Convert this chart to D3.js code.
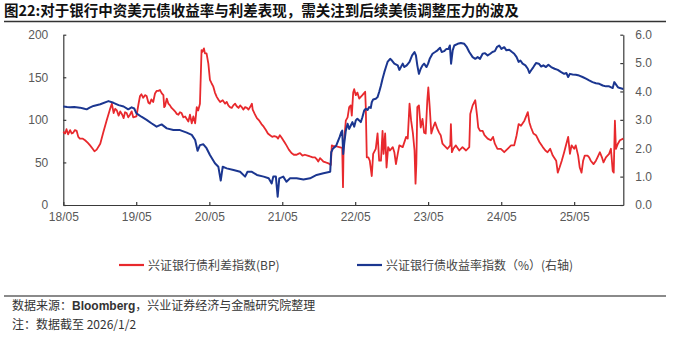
<!DOCTYPE html>
<html>
<head>
<meta charset="utf-8">
<script src="https://cdn.jsdelivr.net/npm/d3@7"></script>
<style>
  body { margin: 0; background: #fff; }
  svg { display: block; }
</style>
</head>
<body>
<svg id="chart" width="677" height="338"></svg>
<script>
// 兴证银行债利差指数 (BP), left axis
const spreadSeries = [
  ["2018-05-01",86],["2018-05-10",84],["2018-05-17",89],["2018-05-25",83],["2018-06-04",88],
  ["2018-06-12",84],["2018-06-20",85],["2018-06-28",88],["2018-07-07",87],["2018-07-15",80],
  ["2018-07-23",78],["2018-08-05",78],["2018-08-18",76],["2018-09-01",73],["2018-09-12",70],
  ["2018-09-25",66],["2018-10-04",63],["2018-10-15",65],["2018-11-02",72],["2018-11-18",86],
  ["2018-12-05",100],["2018-12-20",112],["2018-12-30",119],["2019-01-08",108],["2019-01-16",113],
  ["2019-01-24",111],["2019-02-02",105],["2019-02-10",110],["2019-02-20",106],["2019-02-27",102],
  ["2019-03-06",109],["2019-03-14",108],["2019-03-22",103],["2019-03-31",106],["2019-04-08",110],
  ["2019-04-16",103],["2019-05-02",104],["2019-05-12",118],["2019-05-20",128],["2019-05-27",130],
  ["2019-06-05",126],["2019-06-14",129],["2019-06-22",128],["2019-07-01",120],["2019-07-08",119],
  ["2019-07-16",124],["2019-07-25",121],["2019-08-03",131],["2019-08-11",134],["2019-08-20",134],
  ["2019-08-28",135],["2019-09-06",131],["2019-09-14",129],["2019-09-18",115],["2019-09-22",116],
  ["2019-10-01",125],["2019-10-09",119],["2019-10-17",117],["2019-10-25",114],["2019-11-03",112],
  ["2019-11-11",110],["2019-11-20",107],["2019-11-28",106],["2019-12-06",109],["2019-12-14",108],
  ["2019-12-23",103],["2020-01-01",104],["2020-01-09",101],["2020-01-17",98],["2020-01-25",106],
  ["2020-02-03",96],["2020-02-11",104],["2020-02-20",96],["2020-02-28",115],["2020-03-06",111],
  ["2020-03-15",119],["2020-03-23",182],["2020-03-28",180],["2020-04-04",184],["2020-04-09",178],
  ["2020-04-17",178],["2020-04-26",166],["2020-05-04",147],["2020-05-12",143],["2020-05-21",139],
  ["2020-05-29",132],["2020-06-07",127],["2020-06-15",124],["2020-06-24",121],["2020-07-07",123],
  ["2020-07-19",119],["2020-07-27",121],["2020-08-04",117],["2020-08-12",115],["2020-08-21",114],
  ["2020-08-29",117],["2020-09-07",119],["2020-09-15",116],["2020-09-24",114],["2020-10-02",117],
  ["2020-10-10",115],["2020-10-18",112],["2020-10-27",115],["2020-11-05",114],["2020-11-13",112],
  ["2020-11-21",115],["2020-11-30",119],["2020-12-04",112],["2020-12-14",107],["2020-12-25",102],
  ["2021-01-06",99],["2021-01-17",95],["2021-01-28",92],["2021-02-08",88],["2021-02-18",84],
  ["2021-03-01",82],["2021-03-12",80],["2021-03-22",81],["2021-04-03",80],["2021-04-10",78],
  ["2021-04-19",82],["2021-04-28",79],["2021-05-06",76],["2021-05-14",73],["2021-05-22",70],
  ["2021-06-03",65],["2021-06-16",61],["2021-06-28",59],["2021-07-12",59],["2021-07-20",60],
  ["2021-07-29",61],["2021-08-10",58],["2021-08-22",59],["2021-09-05",58],["2021-09-17",57],
  ["2021-09-30",56],["2021-10-12",56],["2021-10-20",54],["2021-10-28",51],["2021-11-06",55],
  ["2021-11-15",53],["2021-11-23",51],["2021-12-05",50],["2021-12-18",49],["2021-12-30",47],
  ["2022-01-04",70],["2022-01-12",69],["2022-01-26",69],["2022-02-10",68],["2022-02-25",67],
  ["2022-03-01",21],["2022-03-04",68],["2022-03-15",99],["2022-03-24",103],["2022-04-01",115],
  ["2022-04-09",117],["2022-04-14",105],["2022-04-21",132],["2022-04-26",136],["2022-05-04",129],
  ["2022-05-12",132],["2022-05-21",125],["2022-05-29",127],["2022-06-06",129],["2022-06-20",133],
  ["2022-06-23",115],["2022-06-28",56],["2022-07-06",56],["2022-07-13",52],["2022-07-23",34],
  ["2022-07-30",60],["2022-08-12",66],["2022-08-21",84],["2022-08-29",52],["2022-09-07",52],
  ["2022-09-15",87],["2022-09-20",60],["2022-09-28",84],["2022-10-05",44],["2022-10-13",68],
  ["2022-10-22",64],["2022-11-05",68],["2022-11-13",62],["2022-11-21",48],["2022-11-30",60],
  ["2022-12-08",70],["2022-12-25",68],["2023-01-11",80],["2023-01-19",78],["2023-01-28",119],
  ["2023-02-05",99],["2023-02-14",84],["2023-02-22",64],["2023-02-27",25],["2023-03-03",48],
  ["2023-03-08",115],["2023-03-16",117],["2023-03-25",91],["2023-04-03",101],["2023-04-11",85],
  ["2023-04-19",84],["2023-04-27",123],["2023-05-02",138],["2023-05-09",115],["2023-05-17",84],
  ["2023-05-26",91],["2023-06-05",97],["2023-06-17",89],["2023-06-25",85],["2023-07-03",82],
  ["2023-07-12",72],["2023-07-20",70],["2023-08-06",66],["2023-08-20",70],["2023-08-23",95],
  ["2023-08-28",62],["2023-09-04",66],["2023-09-17",70],["2023-10-04",64],["2023-10-20",68],
  ["2023-11-07",64],["2023-11-23",68],["2023-11-28",107],["2023-12-10",117],["2023-12-23",123],
  ["2024-01-01",105],["2024-01-07",91],["2024-01-16",87],["2024-01-29",87],["2024-02-07",82],
  ["2024-02-23",78],["2024-03-10",76],["2024-03-21",80],["2024-03-30",72],["2024-04-12",66],
  ["2024-04-29",66],["2024-05-16",62],["2024-06-02",66],["2024-06-19",70],["2024-07-05",70],
  ["2024-07-17",82],["2024-07-27",95],["2024-08-08",93],["2024-08-25",99],["2024-09-11",109],
  ["2024-09-19",97],["2024-09-27",91],["2024-10-09",84],["2024-10-22",82],["2024-11-08",74],
  ["2024-11-25",68],["2024-12-08",64],["2024-12-19",62],["2025-01-01",66],["2025-01-14",58],
  ["2025-01-31",52],["2025-02-08",38],["2025-02-17",44],["2025-02-28",52],["2025-03-12",62],
  ["2025-03-23",72],["2025-04-01",80],["2025-04-10",60],["2025-04-18",70],["2025-05-01",66],
  ["2025-05-09",70],["2025-05-21",58],["2025-05-29",44],["2025-06-07",38],["2025-06-15",52],
  ["2025-06-23",58],["2025-07-07",58],["2025-07-15",56],["2025-07-23",52],["2025-08-06",48],
  ["2025-08-18",52],["2025-08-26",56],["2025-09-07",62],["2025-09-17",56],["2025-09-25",50],
  ["2025-10-07",56],["2025-10-15",58],["2025-10-23",60],["2025-11-01",66],["2025-11-10",40],
  ["2025-11-15",38],["2025-11-21",99],["2025-11-26",66],["2025-12-06",72],["2025-12-16",76],
  ["2026-01-02",78]
];

// 兴证银行债收益率指数 (%), right axis
const yieldSeries = [
  ["2018-05-01",3.47],["2018-05-20",3.45],["2018-06-04",3.44],["2018-06-25",3.45],["2018-07-23",3.43],
  ["2018-08-10",3.40],["2018-08-26",3.37],["2018-09-10",3.43],["2018-09-29",3.49],["2018-11-02",3.55],
  ["2018-12-13",3.66],["2019-01-07",3.60],["2019-02-02",3.52],["2019-02-27",3.47],["2019-03-22",3.37],
  ["2019-04-08",3.44],["2019-04-21",3.40],["2019-05-02",3.23],["2019-05-27",3.11],["2019-06-22",3.00],
  ["2019-07-16",2.88],["2019-08-11",2.76],["2019-09-05",2.84],["2019-10-01",2.70],["2019-11-03",2.64],
  ["2019-12-06",2.64],["2020-01-09",2.55],["2020-02-03",2.47],["2020-02-20",2.29],["2020-03-03",1.91],
  ["2020-03-15",2.11],["2020-04-01",2.14],["2020-04-17",2.00],["2020-05-04",1.76],["2020-05-29",1.47],
  ["2020-06-15",1.35],["2020-06-27",0.86],["2020-07-07",1.35],["2020-07-27",1.29],["2020-08-30",1.23],
  ["2020-10-02",1.17],["2020-10-27",1.00],["2020-11-08",1.17],["2020-11-30",1.17],["2020-12-25",1.06],
  ["2021-01-28",1.00],["2021-02-22",0.94],["2021-03-09",0.76],["2021-03-17",1.00],["2021-03-30",1.00],
  ["2021-04-08",0.29],["2021-04-16",0.94],["2021-05-06",1.00],["2021-05-22",0.82],["2021-06-09",0.94],
  ["2021-07-12",0.94],["2021-08-15",0.90],["2021-09-17",0.94],["2021-10-20",1.06],["2021-11-23",1.12],
  ["2021-12-27",1.17],["2022-01-01",1.86],["2022-01-09",1.98],["2022-01-26",2.09],["2022-02-12",2.39],
  ["2022-02-20",2.56],["2022-02-25",2.62],["2022-03-02",1.80],["2022-03-07",2.15],["2022-03-15",2.62],
  ["2022-03-24",2.86],["2022-04-01",2.68],["2022-04-09",2.80],["2022-04-17",2.92],["2022-04-26",2.76],
  ["2022-05-04",2.98],["2022-05-12",3.04],["2022-05-21",2.98],["2022-05-29",2.92],["2022-06-06",3.09],
  ["2022-06-15",3.33],["2022-06-23",3.39],["2022-07-02",3.35],["2022-07-10",3.45],["2022-07-18",3.42],
  ["2022-07-23",3.62],["2022-07-30",3.72],["2022-08-12",3.74],["2022-08-21",3.80],["2022-08-29",3.98],
  ["2022-09-07",4.21],["2022-09-15",4.45],["2022-09-24",4.68],["2022-10-02",4.86],["2022-10-10",5.04],
  ["2022-10-23",5.15],["2022-11-01",5.09],["2022-11-13",4.98],["2022-11-30",4.92],["2022-12-08",4.76],
  ["2022-12-16",4.86],["2022-12-25",4.98],["2023-01-02",4.86],["2023-01-14",4.92],["2023-01-28",5.04],
  ["2023-02-10",5.27],["2023-02-22",5.39],["2023-03-01",5.27],["2023-03-08",4.92],["2023-03-16",4.62],
  ["2023-03-25",4.80],["2023-04-03",4.92],["2023-04-11",4.98],["2023-04-23",4.86],["2023-05-01",4.98],
  ["2023-05-09",5.15],["2023-05-23",5.33],["2023-06-05",5.39],["2023-06-17",5.45],["2023-06-30",5.54],
  ["2023-07-08",5.39],["2023-07-20",5.42],["2023-08-01",5.50],["2023-08-11",5.50],["2023-08-18",5.62],
  ["2023-08-24",4.98],["2023-09-01",5.45],["2023-09-09",5.62],["2023-09-26",5.68],["2023-10-12",5.71],
  ["2023-10-29",5.68],["2023-11-11",5.56],["2023-11-23",5.39],["2023-12-10",5.21],["2023-12-23",5.15],
  ["2024-01-04",5.21],["2024-01-16",5.15],["2024-01-29",5.33],["2024-02-10",5.35],["2024-02-23",5.27],
  ["2024-03-07",5.33],["2024-03-18",5.39],["2024-03-30",5.42],["2024-04-09",5.56],["2024-04-21",5.62],
  ["2024-05-02",5.50],["2024-05-16",5.56],["2024-05-27",5.45],["2024-06-10",5.47],["2024-06-24",5.39],
  ["2024-07-05",5.33],["2024-07-17",5.21],["2024-07-27",5.04],["2024-08-05",5.09],["2024-08-16",4.98],
  ["2024-08-30",4.92],["2024-09-11",4.80],["2024-09-19",4.65],["2024-09-27",4.74],["2024-10-09",4.86],
  ["2024-10-22",5.00],["2024-11-05",4.98],["2024-11-17",4.88],["2024-11-28",4.92],["2024-12-11",4.86],
  ["2024-12-23",4.94],["2025-01-06",4.86],["2025-01-23",4.80],["2025-02-08",4.76],["2025-02-25",4.68],
  ["2025-03-12",4.62],["2025-03-23",4.65],["2025-04-01",4.51],["2025-04-10",4.62],["2025-04-23",4.60],
  ["2025-05-09",4.59],["2025-05-26",4.56],["2025-06-12",4.51],["2025-06-29",4.45],["2025-07-15",4.39],
  ["2025-08-01",4.33],["2025-08-18",4.29],["2025-09-04",4.27],["2025-09-21",4.21],["2025-10-07",4.18],
  ["2025-10-23",4.18],["2025-11-10",4.12],["2025-11-18",4.33],["2025-11-26",4.25],["2025-12-06",4.15],
  ["2025-12-16",4.12],["2026-01-02",4.09]
];

const xTickDates = ["2018-05-01","2019-05-01","2020-05-01","2021-05-01","2022-05-01","2023-05-01","2024-05-01","2025-05-01"];
const leftTicks = [0, 50, 100, 150, 200];
const rightTicks = [0, 1, 2, 3, 4, 5, 6];
const xStart = "2018-05-01";
const xEnd = "2026-01-02";

const titleText = "图22:对于银行中资美元债收益率与利差表现，需关注到后续美债调整压力的波及";
const legendLabels = ["兴证银行债利差指数(BP)", "兴证银行债收益率指数（%）(右轴)"];
const sourceText = ["数据来源：", "Bloomberg", "，兴业证券经济与金融研究院整理"];
const noteText = "注：数据截至 2026/1/2";

const RED = "#e8292d";
const BLUE = "#1b3690";
const AXIS = "#3a3a3a";
const LABEL = "#595959";
const FONT = "'Liberation Sans', Arial, 'Noto Sans CJK SC', sans-serif";
const CJK = "'Noto Sans CJK SC', 'Liberation Sans', sans-serif";

const parse = d3.timeParse("%Y-%m-%d");
const svg = d3.select("#chart");

const plot = { left: 63.3, right: 623.3, top: 34.7, bottom: 205 };

const x = d3.scaleTime()
  .domain([parse(xStart), parse(xEnd)])
  .range([plot.left, plot.right]);
const yL = d3.scaleLinear().domain([0, 200]).range([plot.bottom, plot.top]);
const yR = d3.scaleLinear().domain([0, 6]).range([plot.bottom, plot.top]);

// Title and rule beneath it
svg.append("text")
  .attr("x", 4).attr("y", 16)
  .attr("font-family", CJK).attr("font-size", 14.5).attr("font-weight", "bold")
  .attr("fill", "#111")
  .text(titleText);
svg.append("line")
  .attr("x1", 4).attr("x2", 666).attr("y1", 21.5).attr("y2", 21.5)
  .attr("stroke", "#333").attr("stroke-width", 1.5);

// Axes
const xAxis = d3.axisBottom(x)
  .tickValues(xTickDates.map(parse))
  .tickFormat(d3.timeFormat("%y/%m"))
  .tickSizeInner(-3).tickSizeOuter(0).tickPadding(7);
const leftAxis = d3.axisLeft(yL).tickValues(leftTicks)
  .tickSizeInner(-3).tickSizeOuter(0).tickPadding(15);
const rightAxis = d3.axisRight(yR).tickValues(rightTicks)
  .tickFormat(d3.format(".1f"))
  .tickSizeInner(-3).tickSizeOuter(0).tickPadding(12);

function styleAxis(g) {
  g.select(".domain").attr("stroke", AXIS).attr("stroke-width", 1.2);
  g.selectAll(".tick line").attr("stroke", AXIS).attr("stroke-width", 1.2);
  g.selectAll(".tick text").attr("fill", LABEL).attr("font-family", FONT).attr("font-size", 12);
}

svg.append("g").attr("transform", `translate(0,${plot.bottom})`).call(xAxis).call(styleAxis);
svg.append("g").attr("transform", `translate(${plot.left},0)`).call(leftAxis).call(styleAxis);
svg.append("g").attr("transform", `translate(${plot.right},0)`).call(rightAxis).call(styleAxis);

// Series lines
const spreadLine = d3.line()
  .x(d => x(parse(d[0])))
  .y(d => yL(d[1]));
const yieldLine = d3.line()
  .x(d => x(parse(d[0])))
  .y(d => yR(d[1]));

svg.append("path").datum(spreadSeries)
  .attr("d", spreadLine)
  .attr("fill", "none").attr("stroke", RED).attr("stroke-width", 1.8)
  .attr("stroke-linejoin", "round");
svg.append("path").datum(yieldSeries)
  .attr("d", yieldLine)
  .attr("fill", "none").attr("stroke", BLUE).attr("stroke-width", 2)
  .attr("stroke-linejoin", "round");

// Legend
const legendItems = [
  { color: RED, label: legendLabels[0], x0: 119 },
  { color: BLUE, label: legendLabels[1], x0: 357 }
];
const legend = svg.append("g");
legendItems.forEach(item => {
  legend.append("line")
    .attr("x1", item.x0).attr("x2", item.x0 + 25)
    .attr("y1", 265).attr("y2", 265)
    .attr("stroke", item.color).attr("stroke-width", 2.2);
  legend.append("text")
    .attr("x", item.x0 + 29).attr("y", 269.5)
    .attr("font-family", CJK).attr("font-size", 12)
    .attr("fill", "#444")
    .text(item.label);
});

// Footer: rule, source and note
svg.append("line")
  .attr("x1", 4).attr("x2", 666).attr("y1", 296).attr("y2", 296)
  .attr("stroke", "#8a8a8a").attr("stroke-width", 1.8);

const src = svg.append("text")
  .attr("x", 12).attr("y", 310)
  .attr("font-family", CJK).attr("font-size", 12).attr("fill", "#333");
src.append("tspan").text(sourceText[0]);
src.append("tspan").attr("font-family", FONT).attr("font-weight", "bold").text(sourceText[1]);
src.append("tspan").text(sourceText[2]);

svg.append("text")
  .attr("x", 12).attr("y", 329)
  .attr("font-family", CJK).attr("font-size", 12).attr("fill", "#333")
  .text(noteText);
</script>
</body>
</html>
